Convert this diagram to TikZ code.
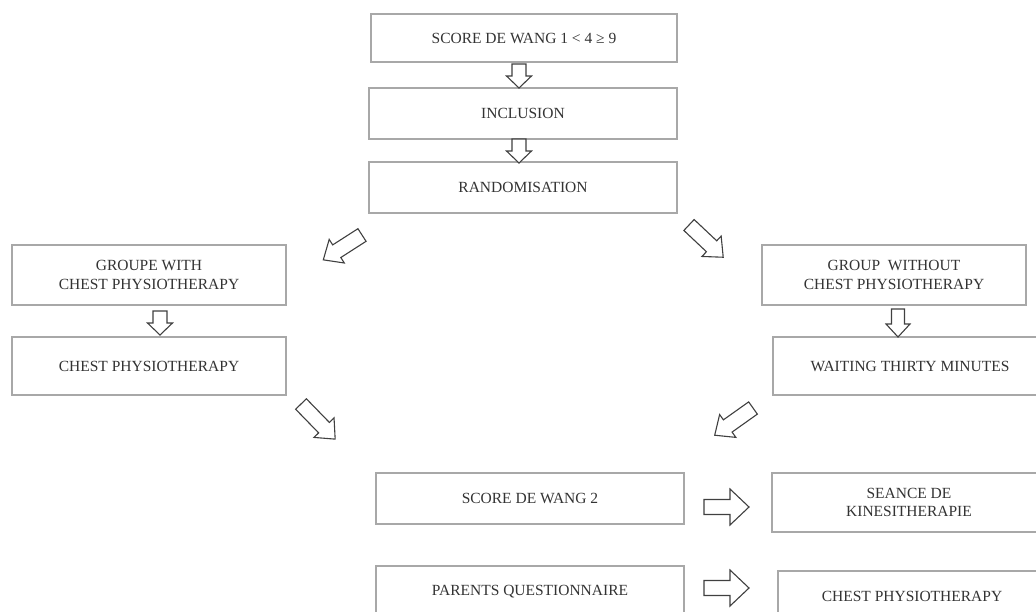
\documentclass[tikz,border=0pt]{standalone}
\usepackage{fontspec}
\setmainfont{Liberation Serif}
\begin{document}
\begin{tikzpicture}[x=1pt,y=-1pt,
  box/.style={draw=boxgray, line width=1.1pt, fill=white, inner sep=0pt, align=center,
    text=txtgray, font=\fontsize{15.5}{18.5}\selectfont},
  barrowstyle/.style={draw=arrgray, line width=1.1pt, fill=white, line join=miter}]
\definecolor{boxgray}{HTML}{A8A8A8}
\definecolor{txtgray}{HTML}{333333}
\definecolor{arrgray}{HTML}{404040}
\newcommand{\blockarrow}[6]{% tail coord, angle, length, shaft, head, headlen
  \draw[barrowstyle, shift={(#1)}, rotate=#2]
    (0,-#4/2) -- ({#3-#6},-#4/2) -- ({#3-#6},-#5/2) -- (#3,0) -- ({#3-#6},#5/2) -- ({#3-#6},#4/2) -- (0,#4/2) -- cycle;}
\useasboundingbox (0,0) rectangle (1036,611);
\clip (0,0) rectangle (1036,611);
\fill[white] (0,0) rectangle (1036,611);

\node[box, minimum width=306pt, minimum height=48pt] (b1) at (524,38) {SCORE DE WANG 1 < 4 ≥ 9};
\node[box, minimum width=308pt, minimum height=51pt] (b2) at (523,113.5) {INCLUSION};
\node[box, minimum width=308pt, minimum height=51pt] (b3) at (523,187.5) {RANDOMISATION};
\node[box, minimum width=274pt, minimum height=60pt] (gl) at (149,275) {GROUPE WITH\\CHEST PHYSIOTHERAPY};
\node[box, minimum width=274pt, minimum height=58pt] (cl) at (149,366) {CHEST PHYSIOTHERAPY};
\node[box, minimum width=264pt, minimum height=60pt] (gr) at (894,275) {GROUP\ \ WITHOUT\\CHEST PHYSIOTHERAPY};
\node[box, minimum width=274pt, minimum height=58pt] (wr) at (910,366) {WAITING THIRTY MINUTES};
\node[box, minimum width=308pt, minimum height=51pt] (s2) at (530,498.5) {SCORE DE WANG 2};
\node[box, minimum width=274pt, minimum height=59pt] (se) at (909,502.5) {SEANCE DE\\KINESITHERAPIE};
\node[box, minimum width=308pt, minimum height=52pt] (pq) at (530,592) {PARENTS QUESTIONNAIRE};
\node[box, minimum width=268pt, minimum height=50pt] (cp) at (912,596) {CHEST PHYSIOTHERAPY};

% arrow tails
\coordinate (t1) at (519,64);
\coordinate (t2) at (519,139);
\coordinate (tl) at (160,311);
\coordinate (tr) at (898,309);
\coordinate (dul) at (362,235);
\coordinate (dur) at (689,225);
\coordinate (dll) at (301,404);
\coordinate (dlr) at (753,408);
\coordinate (th1) at (704,507);
\coordinate (th2) at (704,588);

\blockarrow{t1}{-90}{24}{14}{25}{12}
\blockarrow{t2}{-90}{24}{14}{25}{12}
\blockarrow{tl}{-90}{24}{14}{25}{12}
\blockarrow{tr}{-90}{28}{13}{24}{13}
\blockarrow{dul}{-147.3}{46}{15}{28}{16}
\blockarrow{dur}{-43.3}{47}{15}{28}{16}
\blockarrow{dll}{-45.8}{49}{15}{28}{16}
\blockarrow{dlr}{-144.6}{47}{15}{28}{16}
\blockarrow{th1}{0}{45}{15}{36}{19}
\blockarrow{th2}{0}{45}{15}{36}{19}
\end{tikzpicture}
\end{document}
